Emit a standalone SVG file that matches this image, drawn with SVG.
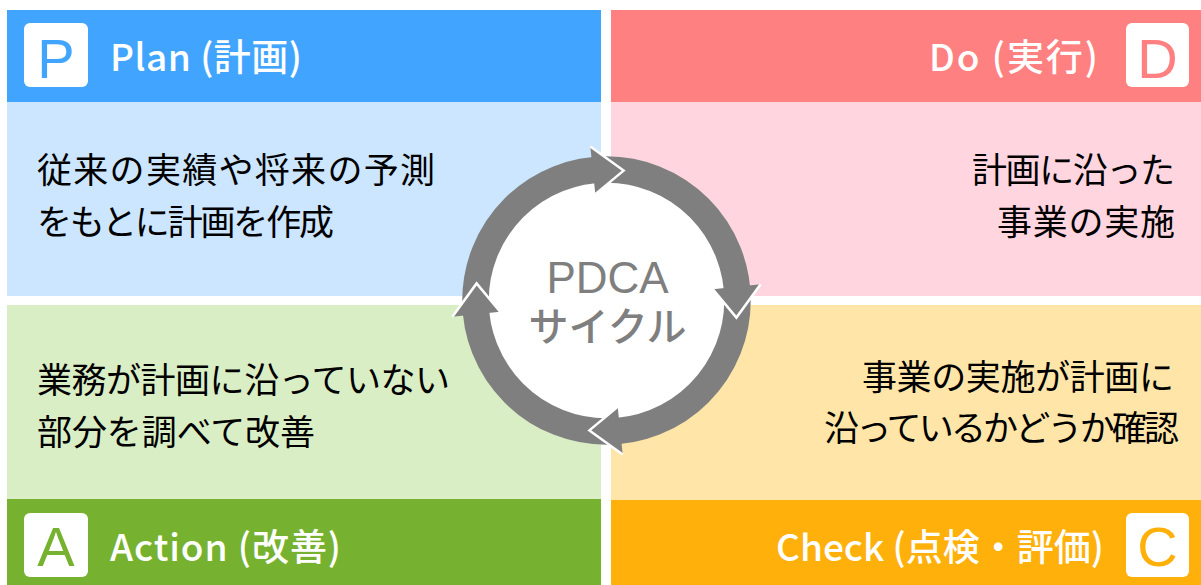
<svg xmlns="http://www.w3.org/2000/svg" width="1201" height="585" viewBox="0 0 1201 585">
<style>
.hd{font-family:"Noto Sans CJK JP","Noto Sans",sans-serif;font-size:37px;font-weight:500;fill:#fff}
.bd{font-family:"Noto Sans CJK JP","Noto Sans",sans-serif;font-size:35px;fill:#000}
.ic{font-family:"Liberation Sans","Noto Sans",sans-serif;font-size:56px;text-anchor:middle}
.ctr{fill:#7f7f7f;text-anchor:middle}
.edge{fill:none;stroke:#fff;stroke-width:2.5;stroke-linejoin:miter}
.head{fill:#7f7f7f}
</style>
<rect width="1201" height="585" fill="#fff"/>
<g id="plan">
<rect x="7" y="10" width="594" height="92" fill="#41A5FF"/>
<rect x="7" y="102" width="594" height="194" fill="#CCE6FF"/>
<rect x="24" y="23" width="64" height="64" rx="6" fill="#fff"/>
<text class="ic" x="56" y="78" fill="#41A5FF">P</text>
<text class="hd" x="110" y="71" textLength="192" lengthAdjust="spacing">Plan (計画)</text>
<text class="bd" x="37" y="183" textLength="398" lengthAdjust="spacing">従来の実績や将来の予測</text>
<text class="bd" x="37" y="235" textLength="297" lengthAdjust="spacing">をもとに計画を作成</text>
</g>
<g id="do">
<rect x="611" y="10" width="590" height="92" fill="#FF8080"/>
<rect x="611" y="102" width="590" height="194" fill="#FFD6E0"/>
<rect x="1126" y="23" width="63" height="64" rx="6" fill="#fff"/>
<text class="ic" x="1157.5" y="78" fill="#FF8080">D</text>
<text class="hd" x="929" y="71" textLength="169" lengthAdjust="spacing">Do (実行)</text>
<text class="bd" x="972" y="183" textLength="203" lengthAdjust="spacing">計画に沿った</text>
<text class="bd" x="997" y="235" textLength="178" lengthAdjust="spacing">事業の実施</text>
</g>
<g id="action">
<rect x="7" y="305" width="594" height="194" fill="#DAEEC6"/>
<rect x="7" y="499" width="594" height="86" fill="#76B230"/>
<rect x="24" y="513" width="64" height="64" rx="6" fill="#fff"/>
<text class="ic" x="56" y="566" fill="#76B230">A</text>
<text class="hd" x="110" y="561" textLength="231" lengthAdjust="spacing">Action (改善)</text>
<text class="bd" x="37" y="393" textLength="413" lengthAdjust="spacing">業務が計画に沿っていない</text>
<text class="bd" x="37" y="445" textLength="278" lengthAdjust="spacing">部分を調べて改善</text>
</g>
<g id="check">
<rect x="611" y="305" width="590" height="195" fill="#FFE6A8"/>
<rect x="611" y="500" width="590" height="85" fill="#FFB00A"/>
<rect x="1126" y="513" width="63" height="64" rx="6" fill="#fff"/>
<text class="ic" x="1157.5" y="566" fill="#FFB00A">C</text>
<text class="hd" x="776" y="561" textLength="328" lengthAdjust="spacing">Check (点検・評価)</text>
<text class="bd" x="862" y="390" textLength="312" lengthAdjust="spacing">事業の実施が計画に</text>
<text class="bd" x="824" y="441" textLength="355" lengthAdjust="spacing">沿っているかどうか確認</text>
</g>
<g id="connectors">
<circle cx="606.5" cy="300.5" r="131" fill="#fff" stroke="#7f7f7f" stroke-width="26.5"/>
<polygon class="head" points="595.3,194.1 623.6,170.6 590.3,146.4"/>
<polyline class="edge" points="595.3,194.1 623.6,170.6 590.3,146.4"/>
<polygon class="head" points="712.9,289.3 736.4,317.6 760.6,284.3"/>
<polyline class="edge" points="712.9,289.3 736.4,317.6 760.6,284.3"/>
<polygon class="head" points="617.7,406.9 589.4,430.4 622.7,454.6"/>
<polyline class="edge" points="617.7,406.9 589.4,430.4 622.7,454.6"/>
<polygon class="head" points="500.1,311.7 476.6,283.4 452.4,316.7"/>
<polyline class="edge" points="500.1,311.7 476.6,283.4 452.4,316.7"/>
</g>
<g id="center">
<text class="ctr" x="607.5" y="293" font-family="Liberation Sans, sans-serif" font-size="44">PDCA</text>
<text class="ctr" x="607.5" y="341" font-family="Noto Sans CJK JP, Noto Sans, sans-serif" font-size="40" font-weight="500" textLength="158" lengthAdjust="spacing">サイクル</text>
</g>
</svg>
